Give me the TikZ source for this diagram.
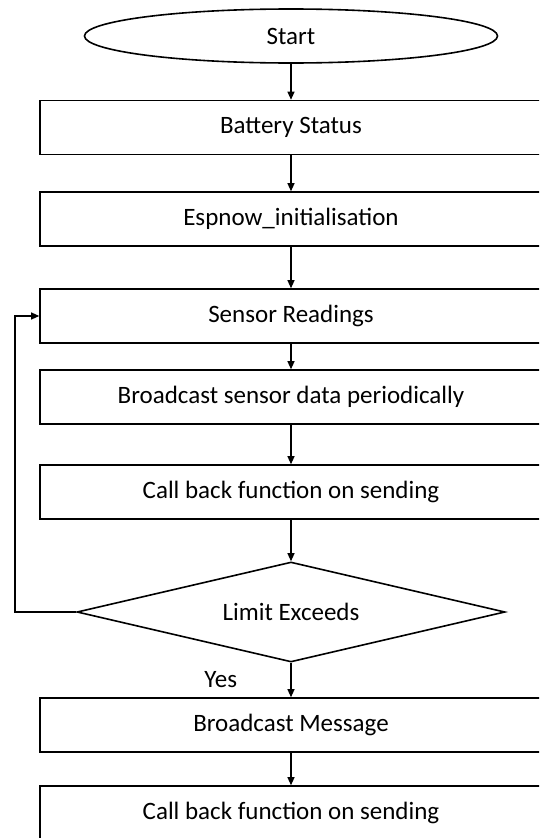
\documentclass[tikz,border=0pt]{standalone}
\usepackage{fontspec}
\setmainfont{Carlito}
\usepackage{tikz}
\usetikzlibrary{shapes.geometric,arrows.meta,positioning}

\begin{document}
\begin{tikzpicture}[x=1pt,y=1pt,
  proc/.style={rectangle,draw,line width=1.6pt,minimum width=502pt,minimum height=54pt,
               inner sep=0pt,align=center,font=\fontsize{25}{29}\selectfont},
  term/.style={ellipse,draw,line width=1.6pt,minimum width=413pt,minimum height=54pt,
               inner sep=0pt,font=\fontsize{25}{29}\selectfont},
  dec/.style={diamond,draw,line width=1.6pt,aspect=4.28,minimum width=428pt,
              minimum height=100pt,inner sep=0pt,font=\fontsize{25}{29}\selectfont},
  arr/.style={-{Triangle[length=8pt,width=7pt]},line width=1.2pt}
]
  \useasboundingbox (0,0) rectangle (539,-838);
  \clip (0,0) rectangle (539,-838);
  \node[term](s0)  at (291,-36)  {Start};
  \node[proc](p1)  at (291,-127.5){Battery Status};
  \node[proc](p2)  at (291,-219) {Espnow\_initialisation};
  \node[proc](p3)  at (291,-316) {Sensor Readings};
  \node[proc](p4)  at (291,-397) {Broadcast sensor data periodically};
  \node[proc](p5)  at (291,-492) {Call back function on sending};
  \node[dec] (d0)  at (291,-612) {Limit Exceeds};
  \node[proc](p6)  at (291,-725) {Broadcast Message};
  \node[proc](p7)  at (291,-813) {Call back function on sending};
  \coordinate (lp) at (15,-612);

  \draw[arr](s0)--(p1);\draw[arr](p1)--(p2);\draw[arr](p2)--(p3);
  \draw[arr](p3)--(p4);\draw[arr](p4)--(p5);\draw[arr](p5)--(d0);
  \draw[arr](d0)--node[left=50pt,font=\fontsize{25}{29}\selectfont]{Yes}(p6);
  \draw[arr](p6)--(p7);
  \draw[arr](d0.west)--(lp)|-(p3.west);
\end{tikzpicture}
\end{document}
